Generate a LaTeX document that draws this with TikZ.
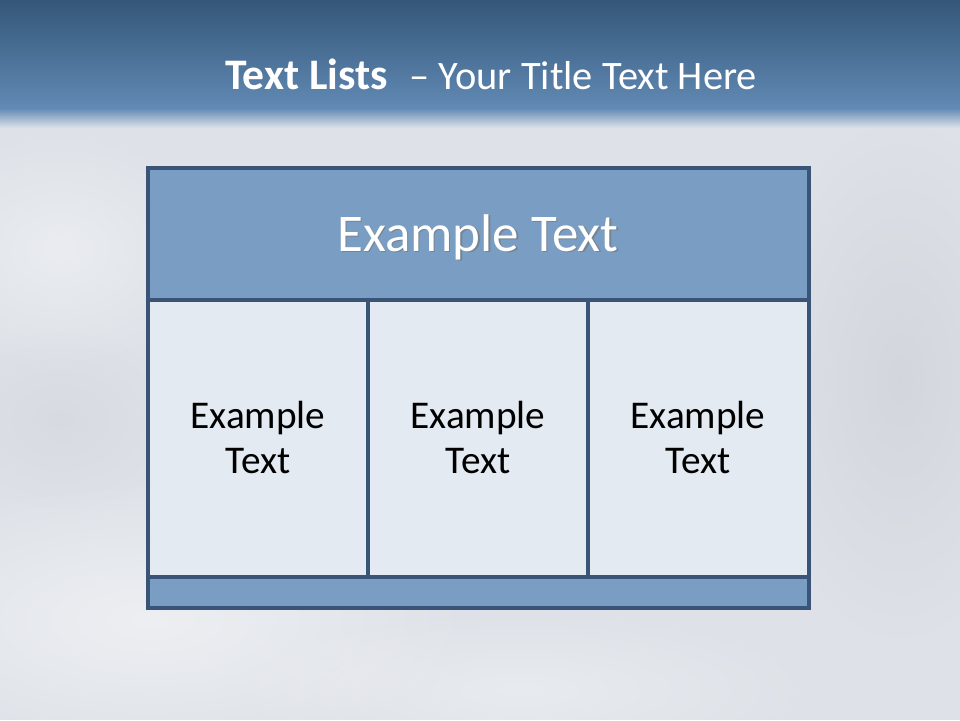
\documentclass[tikz,border=0pt]{standalone}
\usepackage{fontspec}
\usetikzlibrary{fadings}
\setmainfont{Carlito}
\tikzfading[name=softblob, inner color=transparent!0, outer color=transparent!100]
\definecolor{bandtop}{HTML}{345779}
\definecolor{bandbot}{HTML}{6189B4}
\definecolor{bgsky}{HTML}{DEE2E8}
\definecolor{edge}{HTML}{3A5478}
\definecolor{headfill}{HTML}{7A9EC3}
\definecolor{cellfill}{HTML}{E4EAF2}
\begin{document}
\begin{tikzpicture}[x=1pt,y=-1pt,
  box/.style={draw=edge,line width=3.2pt,inner sep=0pt,outer sep=0pt},
  cell/.style={box,fill=cellfill},
  celltext/.style={font=\fontsize{39.3}{45}\selectfont,align=center,text=black}]
\useasboundingbox (0,0) rectangle (960,720);
% background
\fill[bgsky] (0,0) rectangle (960,720);
\fill[white,opacity=0.45,path fading=softblob] (150,620) ellipse (320 and 140);
\fill[white,opacity=0.35,path fading=softblob] (60,250) ellipse (160 and 120);
\fill[white,opacity=0.3,path fading=softblob] (520,690) ellipse (300 and 80);
\fill[black!35!bgsky,opacity=0.14,path fading=softblob] (900,380) ellipse (140 and 260);
\fill[black!25!bgsky,opacity=0.12,path fading=softblob] (60,420) ellipse (120 and 90);
% title band
\shade[top color=bandtop,bottom color=bandbot] (0,0) rectangle (960,108);
\shade[top color=bandbot,bottom color=bgsky] (0,108) rectangle (960,128);
\node (title) at (491,74) {\color{white}\fontsize{43.6}{50}\selectfont\textbf{Text Lists}\hspace{0.5em}\fontsize{40.4}{50}\selectfont– Your Title Text Here};
% table
\draw[box,fill=headfill] (148,168) rectangle (809,300);
\draw[cell] (148,300) rectangle (368,577);
\draw[cell] (368,300) rectangle (588,577);
\draw[cell] (588,300) rectangle (809,577);
\draw[box,fill=headfill] (148,577) rectangle (809,608);
\coordinate (hc) at (478,237);
\node[text=black!55,opacity=0.6] at ([shift={(1.5,1.5)}]hc) {\fontsize{53}{60}\selectfont Example Text};
\node[text=white] (head) at (hc) {\fontsize{53}{60}\selectfont Example Text};
\node[celltext] (c1) at (258,437) {Example\\Text};
\node[celltext] (c2) at (478,437) {Example\\Text};
\node[celltext] (c3) at (698,437) {Example\\Text};
\end{tikzpicture}
\end{document}
